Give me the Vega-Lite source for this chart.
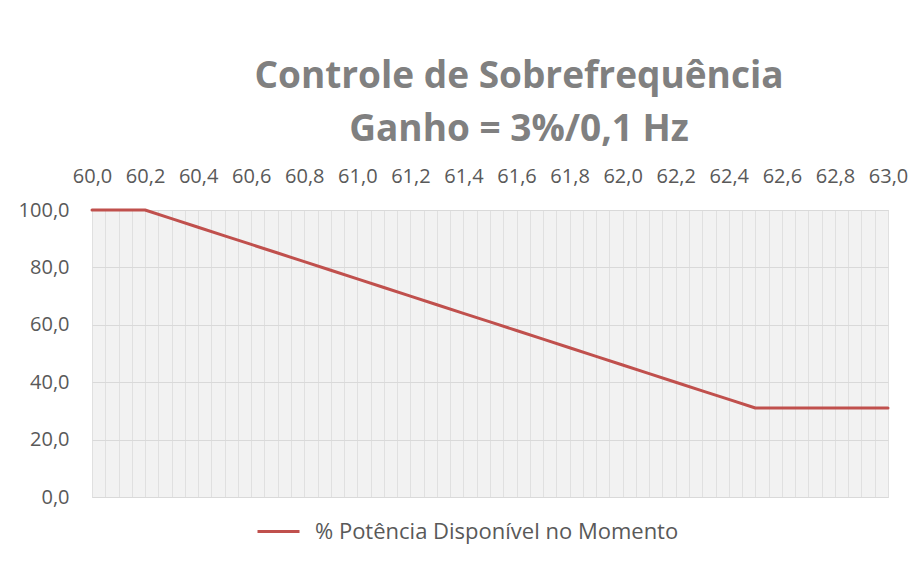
{
  "$schema": "https://vega.github.io/schema/vega-lite/v6.json",
  "width": 796,
  "height": 287,
  "autosize": {"type": "none"},
  "padding": {"left": 92, "top": 210, "right": 21, "bottom": 64},
  "background": "white",
  "config": {
    "locale": {"number": {"decimal": ",", "thousands": ".", "grouping": [3], "currency": ["R$", ""]}},
    "view": {"fill": "#f2f2f2", "stroke": "#d9d9d9", "strokeWidth": 1},
    "font": "Open Sans"
  },
  "title": {
    "text": ["Controle de Sobrefrequência", "Ganho = 3%/0,1 Hz"],
    "font": "Open Sans",
    "fontSize": 37,
    "fontWeight": "bold",
    "color": "#808080",
    "anchor": "middle",
    "dx": 29,
    "offset": 17,
    "lineHeight": 53
  },
  "data": {
    "values": [
      {"freq": 60.0, "pot": 100, "serie": "% Potência Disponível no Momento"},
      {"freq": 60.1, "pot": 100, "serie": "% Potência Disponível no Momento"},
      {"freq": 60.2, "pot": 100, "serie": "% Potência Disponível no Momento"},
      {"freq": 60.3, "pot": 97, "serie": "% Potência Disponível no Momento"},
      {"freq": 60.4, "pot": 94, "serie": "% Potência Disponível no Momento"},
      {"freq": 60.5, "pot": 91, "serie": "% Potência Disponível no Momento"},
      {"freq": 60.6, "pot": 88, "serie": "% Potência Disponível no Momento"},
      {"freq": 60.7, "pot": 85, "serie": "% Potência Disponível no Momento"},
      {"freq": 60.8, "pot": 82, "serie": "% Potência Disponível no Momento"},
      {"freq": 60.9, "pot": 79, "serie": "% Potência Disponível no Momento"},
      {"freq": 61.0, "pot": 76, "serie": "% Potência Disponível no Momento"},
      {"freq": 61.1, "pot": 73, "serie": "% Potência Disponível no Momento"},
      {"freq": 61.2, "pot": 70, "serie": "% Potência Disponível no Momento"},
      {"freq": 61.3, "pot": 67, "serie": "% Potência Disponível no Momento"},
      {"freq": 61.4, "pot": 64, "serie": "% Potência Disponível no Momento"},
      {"freq": 61.5, "pot": 61, "serie": "% Potência Disponível no Momento"},
      {"freq": 61.6, "pot": 58, "serie": "% Potência Disponível no Momento"},
      {"freq": 61.7, "pot": 55, "serie": "% Potência Disponível no Momento"},
      {"freq": 61.8, "pot": 52, "serie": "% Potência Disponível no Momento"},
      {"freq": 61.9, "pot": 49, "serie": "% Potência Disponível no Momento"},
      {"freq": 62.0, "pot": 46, "serie": "% Potência Disponível no Momento"},
      {"freq": 62.1, "pot": 43, "serie": "% Potência Disponível no Momento"},
      {"freq": 62.2, "pot": 40, "serie": "% Potência Disponível no Momento"},
      {"freq": 62.3, "pot": 37, "serie": "% Potência Disponível no Momento"},
      {"freq": 62.4, "pot": 34, "serie": "% Potência Disponível no Momento"},
      {"freq": 62.5, "pot": 31, "serie": "% Potência Disponível no Momento"},
      {"freq": 62.6, "pot": 31, "serie": "% Potência Disponível no Momento"},
      {"freq": 62.7, "pot": 31, "serie": "% Potência Disponível no Momento"},
      {"freq": 62.8, "pot": 31, "serie": "% Potência Disponível no Momento"},
      {"freq": 62.9, "pot": 31, "serie": "% Potência Disponível no Momento"},
      {"freq": 63.0, "pot": 31, "serie": "% Potência Disponível no Momento"}
    ]
  },
  "mark": {"type": "line", "strokeWidth": 3, "strokeCap": "round", "strokeJoin": "round"},
  "encoding": {
    "x": {
      "field": "freq",
      "type": "quantitative",
      "scale": {"domain": [60, 63], "nice": false, "zero": false},
      "axis": {
        "orient": "top",
        "title": null,
        "values": [60.0, 60.05, 60.1, 60.15, 60.2, 60.25, 60.3, 60.35, 60.4, 60.45, 60.5, 60.55, 60.6, 60.65, 60.7, 60.75, 60.8, 60.85, 60.9, 60.95, 61.0, 61.05, 61.1, 61.15, 61.2, 61.25, 61.3, 61.35, 61.4, 61.45, 61.5, 61.55, 61.6, 61.65, 61.7, 61.75, 61.8, 61.85, 61.9, 61.95, 62.0, 62.05, 62.1, 62.15, 62.2, 62.25, 62.3, 62.35, 62.4, 62.45, 62.5, 62.55, 62.6, 62.65, 62.7, 62.75, 62.8, 62.85, 62.9, 62.95, 63.0],
        "labelExpr": "abs(datum.value*5 - round(datum.value*5)) < 0.001 ? replace(format(datum.value, '.1f'), '.', ',') : ''",
        "labelOverlap": false,
        "labelFlush": false,
        "labelFontSize": 20,
        "labelColor": "#595959",
        "labelPadding": 24,
        "ticks": false,
        "domain": false,
        "grid": true,
        "gridColor": "#e0e0e0",
        "gridWidth": 1
      }
    },
    "y": {
      "field": "pot",
      "type": "quantitative",
      "scale": {"domain": [0, 100], "nice": false},
      "axis": {
        "title": null,
        "values": [0, 20, 40, 60, 80, 100],
        "format": ".1f",
        "labelFontSize": 20,
        "labelColor": "#595959",
        "labelPadding": 23,
        "ticks": false,
        "domain": false,
        "grid": true,
        "gridColor": "#d9d9d9",
        "gridWidth": 1
      }
    },
    "color": {
      "field": "serie",
      "type": "nominal",
      "scale": {"range": ["#C0504D"]},
      "legend": {
        "title": null,
        "orient": "none",
        "legendX": 164,
        "legendY": 299,
        "symbolType": "stroke",
        "symbolSize": 1764,
        "symbolStrokeWidth": 3,
        "labelFontSize": 22,
        "labelColor": "#595959",
        "labelOffset": 14,
        "labelLimit": 600
      }
    }
  }
}
